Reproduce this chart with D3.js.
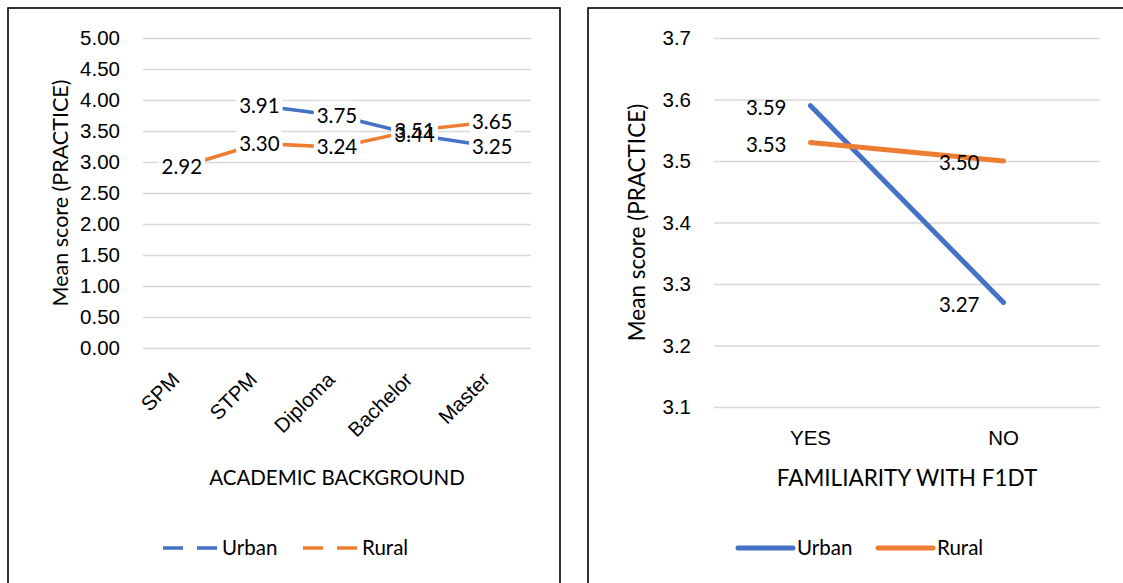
<!DOCTYPE html>
<html>
<head>
<meta charset="utf-8">
<script src="https://cdn.jsdelivr.net/npm/d3@7"></script>
<style>
  html, body { margin: 0; padding: 0; background: #fff; }
  svg { display: block; font-family: Lato, "Open Sans", sans-serif; }
</style>
</head>
<body>
<svg id="chart" width="1123" height="583"></svg>
<script>
// academic background chart
var academicCats = ["SPM", "STPM", "Diploma", "Bachelor", "Master"];
var academicUrban = [null, 3.91, 3.75, 3.44, 3.25];
var academicRural = [2.92, 3.30, 3.24, 3.51, 3.65];
var academicTicks = [0, 0.5, 1, 1.5, 2, 2.5, 3, 3.5, 4, 4.5, 5];

// familiarity chart
var familiarityCats = ["YES", "NO"];
var familiarityUrban = [3.59, 3.27];
var familiarityRural = [3.53, 3.50];
var familiarityTicks = [3.1, 3.2, 3.3, 3.4, 3.5, 3.6, 3.7];

var seriesNames = ["Urban", "Rural"];
var blue = "#4472C4", orange = "#ED7D31";
var fs = 20.5;

var svg = d3.select("#chart");

function drawChart(opt) {
    var g = svg.append("g");

    // frame
    g.append("rect").attr("x", opt.frame[0]).attr("y", opt.frame[1])
        .attr("width", opt.frame[2]).attr("height", opt.frame[3])
        .attr("fill", "#fff").attr("stroke", "#000").attr("stroke-width", 1.6);

    var x = d3.scaleBand().domain(opt.cats).range([opt.left, opt.right]);
    var y = d3.scaleLinear().domain(opt.domain).range([opt.bottom, opt.top]);

    // gridlines
    g.append("g").attr("transform", "translate(" + opt.left + ",0)")
        .call(d3.axisLeft(y).tickValues(opt.ticks).tickSize(-(opt.right - opt.left)).tickFormat(""))
        .call(function(a) {
            a.select(".domain").remove();
            a.selectAll("line").attr("stroke", "#d9d9d9").attr("stroke-width", 1.5);
        });

    // y tick labels
    g.append("g").attr("transform", "translate(" + (opt.left - 23) + ",0)")
        .call(d3.axisLeft(y).tickValues(opt.ticks).tickSize(0).tickPadding(0).tickFormat(d3.format(opt.fmt)))
        .call(function(a) {
            a.select(".domain").remove();
            a.selectAll("text").attr("font-size", fs).attr("fill", "#000").attr("font-family", null);
        });

    // x tick labels
    var xa = g.append("g").attr("transform", "translate(0," + opt.xLabelY + ")")
        .call(d3.axisBottom(x).tickSize(0).tickPadding(0))
        .call(function(a) {
            a.select(".domain").remove();
            a.selectAll("text").attr("font-size", fs).attr("fill", "#000").attr("font-family", null);
        });
    if (opt.rotate) {
        xa.selectAll("text").attr("text-anchor", "end").attr("dy", 0)
            .attr("transform", "translate(-1,0) rotate(-45)");
    } else {
        xa.selectAll("text").attr("dy", "0.35em");
    }

    // axis titles
    g.append("text").attr("x", (opt.left + opt.right) / 2).attr("y", 478)
        .attr("text-anchor", "middle").attr("dy", "0.35em")
        .attr("font-size", opt.xTitleSize).text(opt.xTitle);
    g.append("text")
        .attr("transform", "translate(" + opt.yTitleX + "," + ((opt.top + opt.bottom) / 2) + ") rotate(-90)")
        .attr("text-anchor", "middle").attr("dy", "0.35em")
        .attr("font-size", opt.yTitleSize).text("Mean score (PRACTICE)");

    var line = d3.line()
        .defined(function(d) { return d != null; })
        .x(function(d, i) { return x(opt.cats[i]) + x.bandwidth() / 2; })
        .y(function(d) { return y(d); });

    var series = [opt.urban, opt.rural];
    var colours = [blue, orange];
    series.forEach(function(s, k) {
        g.append("path").datum(s).attr("d", line)
            .attr("fill", "none").attr("stroke", colours[k])
            .attr("stroke-width", opt.lineWidth).attr("stroke-linecap", "round");
    });

    // data labels
    var labels = [];
    [1, 0].forEach(function(k) {
        series[k].forEach(function(v, i) {
            if (v == null) return;
            labels.push({ v: v, cx: x(opt.cats[i]) + x.bandwidth() / 2, cy: y(v) });
        });
    });
    var lg = g.append("g");
    var texts = lg.selectAll("text.lbl").data(labels).enter().append("text")
        .attr("class", "lbl")
        .attr("font-size", fs)
        .attr("text-anchor", opt.labelLeft ? "end" : "middle")
        .attr("x", function(d) { return opt.labelLeft ? d.cx - 24 : d.cx; })
        .attr("y", function(d) { return d.cy + (opt.labelLeft ? 2 : 0); })
        .attr("dy", "0.35em")
        .text(function(d) { return d.v.toFixed(2); });
    if (opt.labelBoxes) {
        texts.each(function() {
            var b = this.getBBox();
            lg.insert("rect", "text").attr("x", b.x - 3).attr("y", b.y - 2)
                .attr("width", b.width + 6).attr("height", b.height + 4)
                .attr("rx", 6).attr("fill", "#fff");
        });
    }

    // legend
    var legX = opt.legendX;
    seriesNames.forEach(function(name, k) {
        var lx = legX + k * opt.legendStep;
        g.append("line").attr("x1", lx).attr("x2", lx + 55).attr("y1", 548).attr("y2", 548)
            .attr("stroke", colours[k]).attr("stroke-width", opt.legendWidth)
            .attr("stroke-linecap", opt.dashed ? "butt" : "round")
            .attr("stroke-dasharray", opt.dashed ? "20,14" : null);
        g.append("text").attr("x", lx + 59).attr("y", 548).attr("dy", "0.35em")
            .attr("font-size", fs).text(name);
    });
}

drawChart({
    frame: [8, 8, 552, 600],
    cats: academicCats, urban: academicUrban, rural: academicRural,
    ticks: academicTicks, domain: [0, 5], fmt: ".2f",
    left: 143, right: 531, top: 38, bottom: 348,
    xLabelY: 381, rotate: true,
    xTitle: "ACADEMIC BACKGROUND", xTitleSize: 20.5, yTitleX: 60, yTitleSize: 21.5,
    lineWidth: 3.5, labelBoxes: true, labelLeft: false,
    legendX: 163, legendStep: 140, legendWidth: 3.5, dashed: true
});

drawChart({
    frame: [588, 8, 560, 600],
    cats: familiarityCats, urban: familiarityUrban, rural: familiarityRural,
    ticks: familiarityTicks, domain: [3.1, 3.7], fmt: ".1f",
    left: 714, right: 1100, top: 38, bottom: 407,
    xLabelY: 438, rotate: false,
    xTitle: "FAMILIARITY WITH F1DT", xTitleSize: 22.5, yTitleX: 637, yTitleSize: 22.5,
    lineWidth: 5, labelBoxes: false, labelLeft: true,
    legendX: 738, legendStep: 140, legendWidth: 5, dashed: false
});
</script>
</body>
</html>
